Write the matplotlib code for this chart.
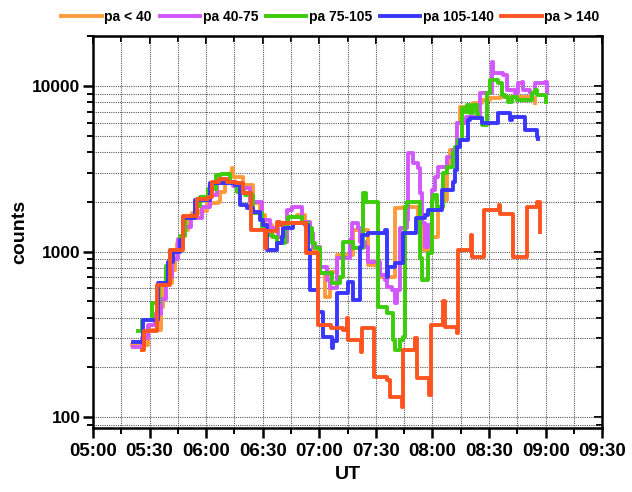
import matplotlib
matplotlib.use("Agg")
import matplotlib.pyplot as plt
from matplotlib.ticker import FixedLocator, LogLocator, NullFormatter

# minutes after 05:00 UT, counts (step data)
t_lt40 = [20.5, 29.3, 36, 37, 41.7, 43.5, 44.4, 47.7, 50.3, 52.3, 56, 60.3, 66.2, 67.3, 70, 72.6, 73.5, 74.2,
          79.5, 84.8, 88.5, 91.2, 94.9, 97.5, 100.7, 103.3, 108.1, 112.3, 115, 116.6, 119.2, 122.9, 125.6,
          129.3, 137.8, 145.7, 150.5, 152.1, 160, 164.3, 172.2, 174.4, 179.6, 182.8, 185.5, 187.6, 189.2,
          192.9, 194.5, 201.4, 206.1, 210.4, 215.7, 233.2, 234.2]
c_lt40 = [272, 336, 460, 645, 775, 930, 1130, 1350, 1600, 1710, 1750, 1970, 2000, 2290, 2630, 3000, 3200, 2830,
          2530, 1970, 1660, 1450, 1230, 1130, 1450, 1620, 1660, 1490, 1260, 1020, 745, 530, 750,
          955, 1350, 830, 810, 700, 1830, 1860, 1490, 1020, 1220, 1860, 2050, 3250, 4100,
          6000, 7480, 7900, 8240, 8440, 8600, 8440, 7900]

t_40_75 = [21.2, 25.8, 29, 33, 36, 39, 42, 45, 48, 52, 57.6, 62, 66, 70, 74.2, 76.8, 83.2, 89.6, 93.8, 98,
           100.7, 102.8, 105.5, 110.8, 115, 116.6, 120.3, 124, 125.6, 129.3, 136.2, 137.3, 140.4, 141.5,
           144.1, 145.7, 152.1, 154.7, 155.8, 158.5, 160, 161.1, 162.7, 166.4, 166.9, 169.6, 172.2, 173.3,
           174.4, 175.9, 177.5, 179.6, 181.2, 182.8, 187.6, 190.8, 193, 198, 203.5, 205.1, 211.4, 211.9,
           217.3, 219.4, 223.6, 225.2, 227.3, 227.9, 231.6, 234.2, 239.5, 240.6]
c_40_75 = [265, 300, 360, 420, 520, 700, 900, 1200, 1400, 1600, 1860, 2200, 2600, 2630, 2500, 2420, 2000, 1550,
           1390, 1230, 1150, 1780, 1860, 1510, 1300, 1070, 810, 675, 600, 910, 1180, 1490, 1390, 1140,
           1070, 865, 720, 675, 610, 585, 490, 585, 1390, 1550, 3950, 3420, 3200, 2260,
           1490, 1070, 1450, 2360, 2830, 3250, 3740, 4100, 6000, 6500, 6700, 9100, 14000, 12000,
           11700, 9460, 9100, 10400, 10600, 9460, 9100, 10400, 10600, 9100]

t_75_105 = [23.8, 26, 31.3, 35, 39, 41, 46, 49, 54, 57, 61, 65, 68, 72.6, 76.3, 80.6, 84.8, 89.6, 92.2, 95.4,
            97.5, 101.7, 103.3, 110.8, 114, 116.1, 117.7, 120.3, 126.7, 130.9, 132.5, 137.8, 143.1, 144.7,
            151, 155.8, 159, 160, 162.7, 164.3, 165.3, 166.4, 173.3, 174.4, 177.5, 179.6, 180.2, 182.3,
            185.5, 187.6, 190.8, 192, 193.4, 195.6, 197.2, 198.2, 199.8, 201.4, 203.5, 204, 206.1, 208.8,
            210.4, 214.6, 216.7, 218.3, 219.9, 222, 224.7, 232.6, 234.2, 235.3, 240]
c_75_105 = [330, 386, 490, 650, 820, 1020, 1250, 1600, 1900, 2150, 2400, 2900, 2950, 2600, 2290, 2200, 1710,
            1410, 1260, 1230, 1130, 1410, 1620, 1490, 1390, 1130, 1050, 745, 650, 705, 1140, 1050, 2260,
            2000, 460, 425, 292, 255, 292, 305, 1860, 2000, 910, 675, 980, 2050, 2200, 1860,
            3000, 3250, 3950, 4300, 4700, 7360, 7000, 7690, 6870, 7690, 6870, 6400, 5830, 9100,
            10900, 10400, 8860, 8600, 8040, 8600, 8240, 9100, 9460, 8860, 8000]

t_105_140 = [21.2, 26.5, 34.4, 39.7, 42.4, 46.1, 47.7, 54.1, 62, 75.3, 77.9, 81.6, 84.8, 88.5, 90.1, 92.2,
             97.5, 100.2, 100.7, 106, 112.3, 114, 115, 119.2, 121.9, 126.7, 127.2, 129.3, 135.1, 137.8,
             141.5, 142.6, 146, 154.7, 155.8, 156.3, 160, 164.3, 171.2, 175.9, 177.5, 185, 190.8, 191.8,
             192.9, 194.5, 198.7, 199.8, 206.1, 214.6, 221, 222, 229, 235.3, 235.8]
c_105_140 = [285, 386, 645, 865, 1000, 1180, 1600, 2050, 2600, 2530, 1910, 1830, 1740, 1550, 1450, 1020,
             1130, 1220, 1390, 1490, 1450, 1020, 585, 430, 305, 262, 290, 560, 655, 510,
             1070, 1260, 1300, 1350, 700, 810, 850, 1300, 1600, 1660, 1780, 2360, 2630, 3100,
             4300, 4700, 6250, 6400, 6000, 6870, 6250, 6500, 5430, 4930, 4800]

t_gt140 = [26, 27, 34, 41, 48, 55, 61, 63, 67, 71, 76, 79.5, 84, 91, 92, 97.5, 99, 100, 113, 119.5, 126,
           132.5, 134.6, 135.1, 142, 142.6, 149, 155.8, 157.4, 163.8, 164.3, 170.6, 171.7, 178, 179, 185.5,
           186.5, 193, 193.4, 200.5, 201, 207.5, 215, 215.7, 222.6, 230, 235.5, 237]
c_gt140 = [255, 330, 630, 1020, 1640, 2080, 2140, 2630, 2750, 2630, 2600, 2260, 1350, 1050, 1330, 1510, 1450,
           1490, 980, 360, 345, 337, 400, 293, 248, 345, 176, 168, 133, 115, 255, 300, 172, 137, 360, 500,
           350, 322, 1020, 1260, 930, 1780, 1910, 1690, 930, 1860, 2000, 1320]

labels = ['pa < 40', 'pa 40-75', 'pa 75-105', 'pa 105-140', 'pa > 140']
colors = ['#ff9a3c', '#d257ff', '#3ccc0a', '#3a36ff', '#ff5420']
x_ticklabels = ['05:00', '05:30', '06:00', '06:30', '07:00', '07:30', '08:00', '08:30', '09:00', '09:30']

plt.rcParams['font.family'] = ['Liberation Sans', 'DejaVu Sans']
plt.rcParams['font.weight'] = 'bold'

fig = plt.figure(figsize=(6.32, 4.92), dpi=100)
ax = fig.add_axes([0.147, 0.130, 0.806, 0.797])

series = [(t_lt40, c_lt40), (t_40_75, c_40_75), (t_75_105, c_75_105),
          (t_105_140, c_105_140), (t_gt140, c_gt140)]
for (t, c), col, lab in zip(series, colors, labels):
    ax.plot(t, c, drawstyle='steps-post', color=col, lw=2.8, label=lab)

ax.set_yscale('log')
ax.set_ylim(86, 20100)
ax.set_xlim(0, 270)
ax.set_xticks(range(0, 271, 30))
ax.set_xticklabels(x_ticklabels)
ax.set_xticks(range(15, 271, 30), minor=True)
ax.yaxis.set_major_locator(FixedLocator([100, 1000, 10000]))
ax.yaxis.set_minor_locator(LogLocator(base=10, subs=range(2, 10)))
ax.yaxis.set_minor_formatter(NullFormatter())
ax.set_yticklabels(['100', '1000', '10000'])

ax.grid(True, which='both', axis='both', color='0.35', ls=(0, (1, 1)), lw=0.8)
ax.set_axisbelow(True)

for s in ax.spines.values():
    s.set_linewidth(1.8)
ax.tick_params(which='major', direction='out', length=7, width=1.8, pad=4)
ax.tick_params(which='minor', direction='out', length=4, width=1.4)
ax.tick_params(axis='x', labelsize=13.5)
ax.tick_params(axis='y', labelsize=12.5, pad=2)

# inward ticks on top and right
sx = ax.secondary_xaxis('top')
sx.set_xticks(range(0, 271, 30))
sx.set_xticks(range(15, 271, 30), minor=True)
sx.tick_params(which='both', direction='in', labeltop=False, width=1.4)
sx.tick_params(which='major', length=6)
sx.tick_params(which='minor', length=4)
sy = ax.secondary_yaxis('right')
sy.set_yticks([100, 1000, 10000])
sy.tick_params(which='both', direction='in', labelright=False, width=1.4)
sy.tick_params(which='major', length=6)
sy.tick_params(which='minor', length=4)

ax.set_xlabel('UT', fontsize=14, fontweight='bold', labelpad=4)
ax.set_ylabel('counts', fontsize=14, fontweight='bold', labelpad=3)

fig.legend(loc='upper center', bbox_to_anchor=(0.523, 1.005), ncol=5, frameon=False,
           handlelength=2.9, handletextpad=0.2, columnspacing=0.55,
           prop={'weight': 'bold', 'size': 10})

fig.savefig('out.png', dpi=100)
